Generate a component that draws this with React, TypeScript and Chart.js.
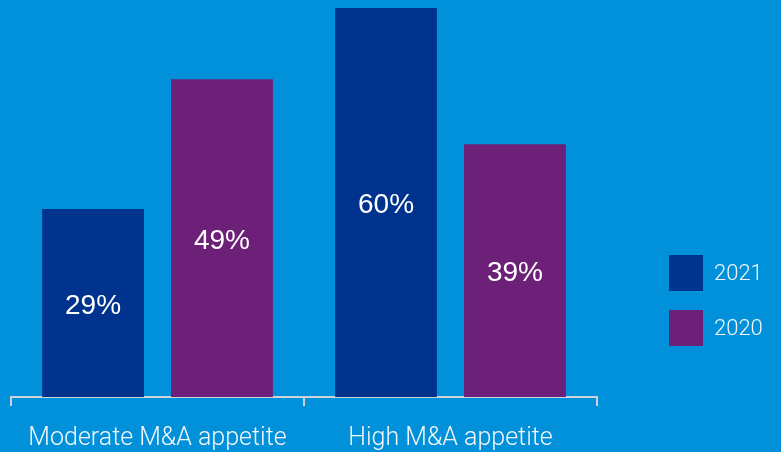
import React, { useEffect, useRef } from "react";
import { Chart, registerables } from "chart.js";

Chart.register(...registerables);

const categories = ["Moderate M&A appetite", "High M&A appetite"];
const seriesNames = ["2021", "2020"];
const values2021 = [29, 60];
const values2020 = [49, 39];
const seriesColors = ["#00338D", "#6D2077"];
const BG = "#0091DA";

const bgPlugin = {
  id: "bgFill",
  beforeDraw(chart: any) {
    const ctx = chart.ctx;
    ctx.save();
    ctx.fillStyle = BG;
    ctx.fillRect(0, 0, chart.width, chart.height);
    ctx.restore();
  },
};

const valueLabels = {
  id: "valueLabels",
  afterDatasetsDraw(chart: any) {
    const ctx = chart.ctx;
    ctx.save();
    ctx.fillStyle = "#ffffff";
    ctx.font = '28px "Liberation Sans", Arial, sans-serif';
    ctx.textAlign = "center";
    ctx.textBaseline = "middle";
    chart.data.datasets.forEach((ds: any, i: number) => {
      const meta = chart.getDatasetMeta(i);
      meta.data.forEach((bar: any, j: number) => {
        const { x, y, base } = bar.getProps(["x", "y", "base"], true);
        ctx.fillText(ds.data[j] + "%", x, (y + base) / 2 + 3);
      });
    });
    ctx.restore();
  },
};

const sideLegend = {
  id: "sideLegend",
  afterDraw(chart: any) {
    const ctx = chart.ctx;
    ctx.save();
    const boxX = 669;
    const boxW = 34;
    const boxH = 36;
    const tops = [255, 310];
    ctx.font = '300 22px Roboto, "Liberation Sans", sans-serif';
    ctx.textAlign = "left";
    ctx.textBaseline = "middle";
    chart.data.datasets.forEach((ds: any, i: number) => {
      const top = tops[i];
      ctx.fillStyle = ds.backgroundColor;
      ctx.fillRect(boxX, top, boxW, boxH);
      ctx.fillStyle = "#f4f6f8";
      ctx.fillText(ds.label, boxX + boxW + 11, top + boxH / 2 + 1);
    });
    ctx.restore();
  },
};

export default function App() {
  const canvasRef = useRef<HTMLCanvasElement | null>(null);

  useEffect(() => {
    document.body.style.margin = "0";
    document.body.style.background = BG;
    document.body.style.overflow = "hidden";
    const canvas = canvasRef.current;
    if (!canvas) return;
    const chart = new Chart(canvas, {
      type: "bar",
      data: {
        labels: categories,
        datasets: [
          {
            label: seriesNames[0],
            data: values2021,
            backgroundColor: seriesColors[0],
            categoryPercentage: 0.88,
            barPercentage: 0.79,
          },
          {
            label: seriesNames[1],
            data: values2020,
            backgroundColor: seriesColors[1],
            categoryPercentage: 0.88,
            barPercentage: 0.79,
          },
        ],
      },
      options: {
        animation: false,
        responsive: false,
        maintainAspectRatio: false,
        layout: { padding: { left: 11, right: 184, top: 8, bottom: 0 } },
        plugins: {
          legend: { display: false },
          tooltip: { enabled: false },
        },
        scales: {
          x: {
            grid: {
              display: true,
              offset: true,
              drawOnChartArea: false,
              drawTicks: true,
              tickLength: 9,
              color: "#cdd3d8",
              lineWidth: 2,
            },
            border: { display: true, color: "#cdd3d8", width: 2 },
            ticks: {
              color: "#f4f6f8",
              padding: 18,
              font: { family: 'Roboto, "Liberation Sans", sans-serif', size: 25, weight: "300" as any, lineHeight: 1.2 },
            },
          },
          y: {
            display: false,
            min: 0,
            max: 60,
          },
        },
      },
      plugins: [bgPlugin, valueLabels, sideLegend],
    });
    return () => chart.destroy();
  }, []);

  return (
    <div style={{ width: 781, height: 452, background: BG, overflow: "hidden" }}>
      <canvas ref={canvasRef} width={781} height={472} style={{ display: "block" }} />
    </div>
  );
}
